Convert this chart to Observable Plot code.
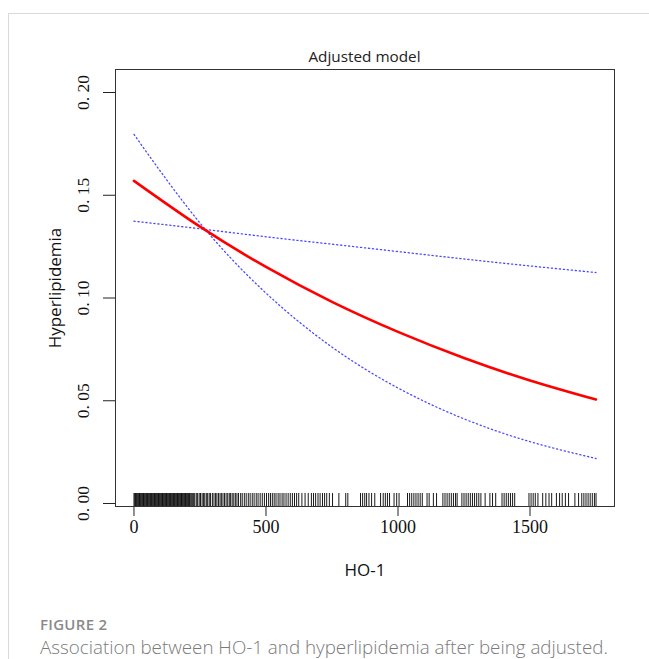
<!DOCTYPE html>
<html>
<head>
<meta charset="utf-8">
<script src="https://cdn.jsdelivr.net/npm/d3@7"></script>
<script src="https://cdn.jsdelivr.net/npm/@observablehq/plot@0.6"></script>
<style>
  html, body { margin: 0; padding: 0; background: #fff; }
  #page { position: relative; width: 649px; height: 659px; overflow: hidden; }
  #card { position: absolute; left: 8px; top: 13px; right: -2px; bottom: -2px;
          border-left: 1px solid #d9d9d9; border-top: 1px solid #d9d9d9; }
  #chart { position: absolute; left: 0; top: 0; }
  #title { position: absolute; top: 46px; left: 115px; width: 499px; text-align: center;
           font-family: "Open Sans", "Noto Sans", sans-serif; font-size: 15.3px; color: #222; }
  #figlabel { position: absolute; left: 40px; top: 614px; font-family: "Open Sans", "Noto Sans", sans-serif;
              font-size: 15px; color: #8a8a8a; font-weight: 600; letter-spacing: 0.3px; }
  #caption { position: absolute; left: 40px; top: 634px; font-family: "Open Sans", "Noto Sans", sans-serif;
             font-size: 18.8px; color: #7a7a7a; font-weight: 300; white-space: nowrap; }
</style>
</head>
<body>
<div id="page">
  <div id="card"></div>
  <div id="chart"></div>
  <div id="title">Adjusted model</div>
  <div id="figlabel">FIGURE 2</div>
  <div id="caption">Association between HO-1 and hyperlipidemia after being adjusted.</div>
</div>
<script>
// ---- data ----
const hoGrid      = [0, 250, 500, 750, 1000, 1250, 1500, 1750];
const fitValues   = [0.1570, 0.1347, 0.1151, 0.0981, 0.0835, 0.0708, 0.0599, 0.0506];
const ciSteep     = [0.1796, 0.1365, 0.1024, 0.0761, 0.0562, 0.0412, 0.0301, 0.0219];
const ciFlat      = [0.1374, 0.1337, 0.1298, 0.1262, 0.1226, 0.1190, 0.1156, 0.1124];
const xTicks      = [0, 500, 1000, 1500];
const yTicks      = [0, 0.05, 0.10, 0.15, 0.20];
const rugValues   = [
  0,3,6,9,12,15,18,21,24,27,30,33,36,39,42,45,48,51,54,57,60,63,66,69,72,75,78,81,84,87,90,93,96,99,
  102,105,108,111,114,117,120,123,126,129,132,135,138,141,144,147,150,153,156,159,162,165,168,171,
  174,177,180,183,186,189,192,195,198,201,204,207,210,
  213,217,221,226,230,236,241,247,252,258,263,268,274,279,285,290,297,303,309,314,320,326,331,337,
  343,349,355,361,366,372,378,384,390,396,
  404,410,418,425,433,440,448,455,463,470,478,486,494,502,510,517,524,531,538,546,553,561,568,576,
  584,592,600,608,616,624,636,648,660,672,
  680,688,697,705,714,722,730,740,752,776,802,810,858,866,874,881,890,900,912,934,944,952,960,968,
  985,995,1004,1036,1044,1052,1060,1068,1076,1084,1092,1110,1118,1134,1146,
  1170,1178,1186,1194,1202,1210,1218,1224,1242,1250,1258,1266,1274,1282,1290,1298,1306,1314,1330,
  1348,1358,1370,1394,1402,1410,1418,1426,1434,1442,1496,1504,1512,1520,1530,
  1548,1560,1572,1582,1600,1612,1622,1634,1646,1670,1684,1696,1704,1712,1720,1728,1736,1744,1750
];

const rows = hoGrid.map((x, i) => ({x, fit: fitValues[i], steep: ciSteep[i], flat: ciFlat[i]}));

const W = 649, H = 600, mT = 69, mB = 94, mL = 115, mR = 35;
const frameH = H - mT - mB;
const serif = "'Liberation Serif', 'DejaVu Serif', serif";
const sans = "'Open Sans', 'Noto Sans', sans-serif";
const fmtY = d => d3.format(".2f")(d).replace(".", ". ");

const chart = Plot.plot({
  width: W, height: H,
  marginTop: mT, marginBottom: mB, marginLeft: mL, marginRight: mR,
  style: {background: "transparent", overflow: "visible"},
  x: {domain: [-70, 1820]},
  y: {domain: [-0.00146, 0.2112]},
  marks: [
    Plot.axisX({ticks: xTicks, tickSize: 10, tickPadding: 4, fontSize: 18, fontFamily: serif,
                tickFormat: d => String(d), label: null, stroke: "#222", color: "#111"}),
    Plot.axisY({ticks: yTicks, tickSize: 12, tickPadding: 15, tickRotate: -90, textAnchor: "middle",
                fontSize: 17.5, fontFamily: serif, tickFormat: fmtY, label: null, stroke: "#222", color: "#111"}),
    Plot.tickX(rugValues, {x: d => d, insetTop: frameH - 13, stroke: "#000", strokeWidth: 1, strokeOpacity: 0.9}),
    Plot.line(rows, {x: "x", y: "steep", curve: "natural", stroke: "#4a4aff", strokeWidth: 1.3, strokeDasharray: "1.2,2.8"}),
    Plot.line(rows, {x: "x", y: "flat", curve: "natural", stroke: "#4a4aff", strokeWidth: 1.3, strokeDasharray: "1.2,2.8"}),
    Plot.line(rows, {x: "x", y: "fit", curve: "natural", stroke: "#ff0000", strokeWidth: 2.6}),
    Plot.frame({stroke: "#333", strokeWidth: 1}),
    Plot.text(["Hyperlipidemia"], {frameAnchor: "left", dx: -60, rotate: -90, fontSize: 17,
               fontFamily: sans, fill: "#111", textAnchor: "middle"}),
    Plot.text(["HO-1"], {frameAnchor: "bottom", dy: 69, fontSize: 17, fontFamily: sans, fill: "#111", textAnchor: "middle"})
  ]
});
document.getElementById("chart").appendChild(chart);
</script>
</body>
</html>
